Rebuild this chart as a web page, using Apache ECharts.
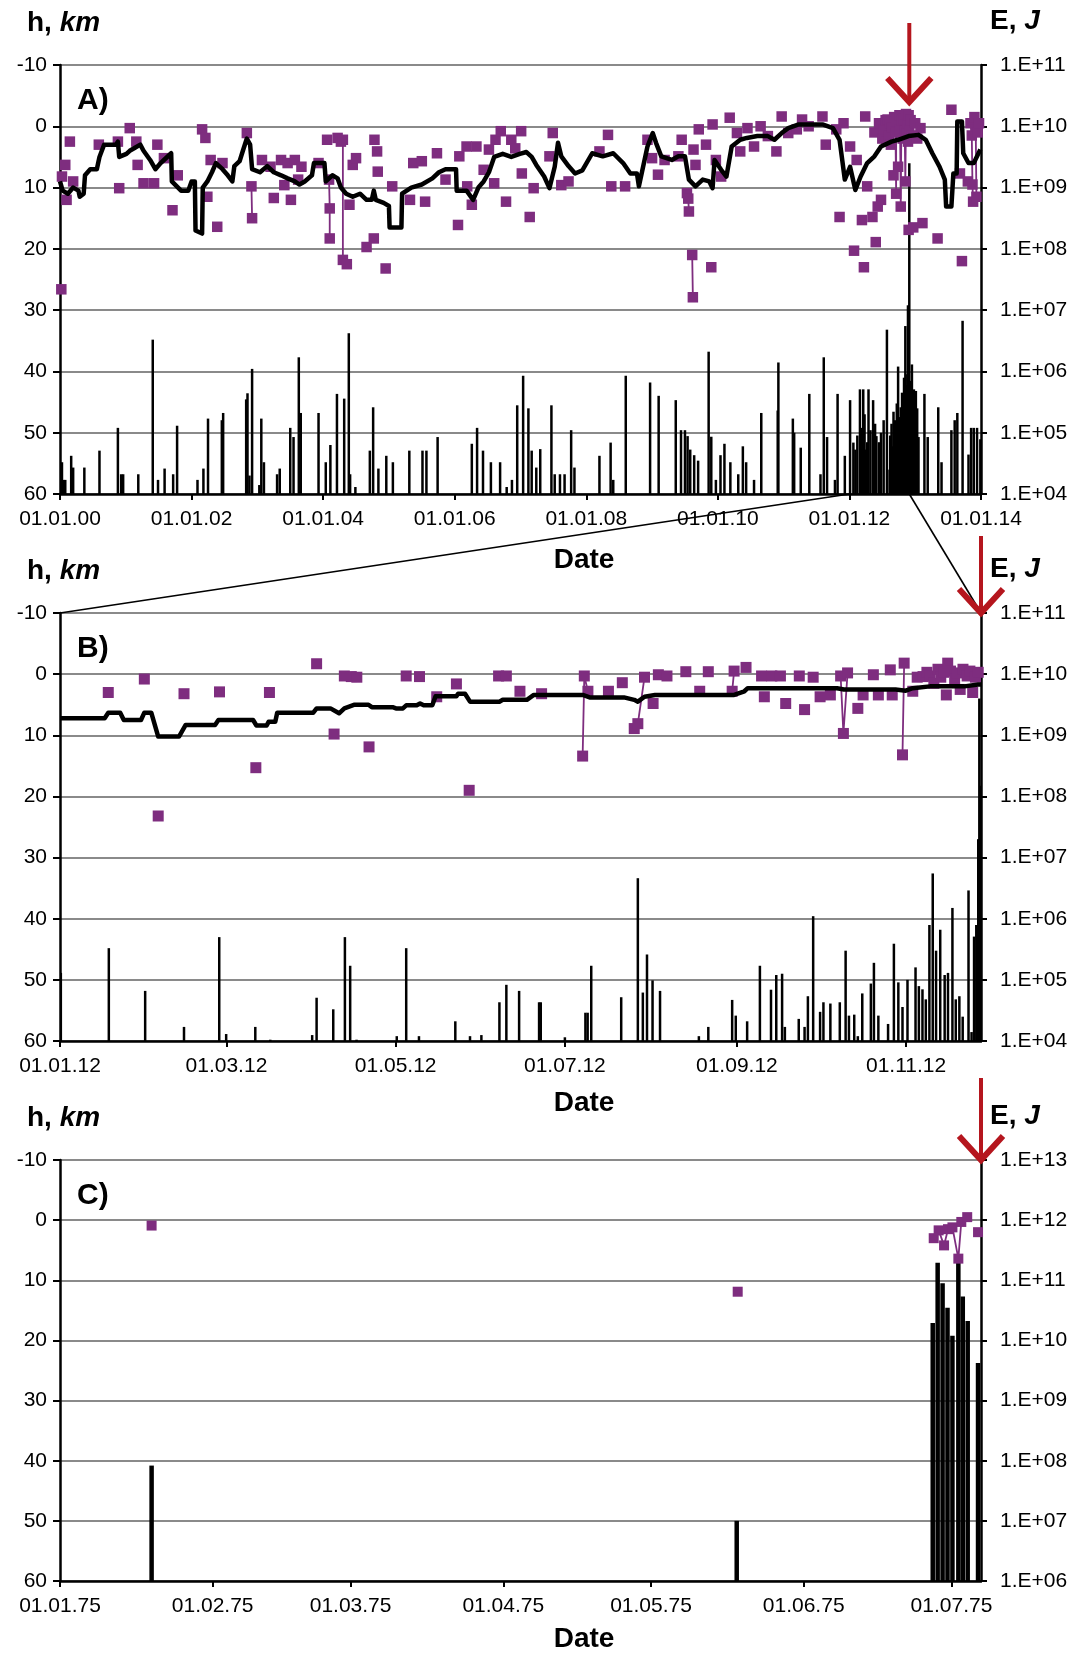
<!DOCTYPE html>
<html><head><meta charset="utf-8">
<script src="https://cdn.jsdelivr.net/npm/echarts@6/dist/echarts.min.js"></script>
<style>html,body{margin:0;padding:0;background:#fff}#c{width:1075px;height:1654px}</style>
</head><body><div id="c"></div><script>
// ---------------- DATA ----------------
// Panel A: x = decimal year; depth h (km) [year, h, linkedToPrevious]; energy E (J) [year, E]
const A_TICK_LABELS = ['01.01.00','01.01.02','01.01.04','01.01.06','01.01.08','01.01.10','01.01.12','01.01.14'];
const A_ERUPTION = 2012.91;
const A_ZOOM_START = 2012.0;
const A_H = [
[2000.02,26.6,0],[2000.03,8.2,0],[2000.08,6.3,0],[2000.10,12.0,0],[2000.15,2.5,0],[2000.20,9.0,0],[2000.59,3.0,0],
[2000.88,2.5,0],[2000.90,10.1,0],[2001.06,0.3,0],[2001.16,2.5,0],[2001.18,6.3,0],[2001.27,9.3,0],[2001.43,9.3,0],
[2001.48,3.0,0],[2001.58,5.2,0],[2001.71,13.7,0],[2001.79,8.0,0],[2002.16,0.5,0],[2002.21,1.9,0],[2002.24,11.5,0],
[2002.29,5.5,0],[2002.39,16.4,0],[2002.47,6.0,0],[2002.84,1.1,0],[2002.91,9.8,0],[2002.92,15.0,1],[2003.07,5.5,0],
[2003.20,6.6,0],[2003.25,11.7,0],[2003.36,5.5,0],[2003.41,9.6,0],[2003.46,6.0,0],[2003.51,12.0,0],[2003.57,5.5,0],
[2003.62,8.7,0],[2003.67,6.6,0],[2003.93,6.0,0],[2004.06,2.2,0],[2004.09,8.7,0],[2004.10,13.4,1],[2004.10,18.3,1],
[2004.22,1.9,0],[2004.27,2.5,0],[2004.30,2.2,0],[2004.30,21.8,1],[2004.36,22.5,0],[2004.40,12.8,0],[2004.45,6.3,0],
[2004.50,5.2,0],[2004.66,19.7,0],[2004.77,18.3,0],[2004.78,2.2,0],[2004.82,4.1,0],[2004.83,7.4,0],[2004.95,23.2,0],
[2005.05,9.8,0],[2005.32,12.0,0],[2005.37,6.0,0],[2005.50,5.7,0],[2005.55,12.3,0],[2005.73,4.4,0],[2005.86,8.7,0],
[2006.05,16.1,0],[2006.07,4.9,0],[2006.18,3.3,0],[2006.19,9.8,0],[2006.26,12.8,0],[2006.33,3.3,0],[2006.44,7.1,0],
[2006.52,3.8,0],[2006.60,9.3,0],[2006.62,2.2,0],[2006.70,0.8,0],[2006.78,12.3,0],[2006.86,2.2,0],[2006.92,3.6,0],
[2007.01,0.8,0],[2007.02,7.7,0],[2007.14,14.8,0],[2007.20,10.1,0],[2007.44,4.9,0],[2007.49,1.1,0],[2007.62,9.6,0],
[2007.73,9.0,0],[2008.20,4.1,0],[2008.33,1.4,0],[2008.38,9.8,0],[2008.59,9.8,0],[2008.93,2.2,0],[2009.00,5.2,0],
[2009.09,7.9,0],[2009.19,5.5,0],[2009.40,4.9,0],[2009.45,2.2,0],[2009.53,10.9,0],[2009.55,11.8,1],[2009.56,13.9,1],
[2009.61,21.0,0],[2009.62,27.9,1],[2009.63,3.8,0],[2009.66,6.3,0],[2009.71,0.5,0],[2009.82,3.0,0],[2009.90,23.0,0],
[2009.92,-0.3,0],[2009.97,5.5,0],[2010.05,8.2,0],[2010.18,-1.4,0],[2010.29,1.1,0],[2010.34,4.1,0],[2010.45,0.3,0],
[2010.55,3.3,0],[2010.65,0.0,0],[2010.76,1.6,0],[2010.89,4.1,0],[2010.97,-1.6,0],[2011.07,1.1,0],[2011.20,0.5,0],
[2011.28,-1.1,0],[2011.38,0.0,0],[2011.59,-1.6,0],[2011.64,3.0,0],[2011.80,0.5,0],[2011.85,14.8,0],[2011.91,-0.5,0],
[2012.01,3.3,0],[2012.07,20.3,0],[2012.11,5.5,0],[2012.19,15.3,0],[2012.22,23.0,0],[2012.24,-1.6,0],[2012.27,9.8,0],
[2012.35,14.8,0],[2012.38,1.0,0],[2012.40,18.9,0],[2012.43,13.1,0],[2012.45,-0.5,0],[2012.48,12.0,0],[2012.50,2.0,0],
[2012.52,0.5,0],[2012.55,-1.0,1],[2012.56,2.5,1],[2012.58,-1.1,0],[2012.60,1.5,0],[2012.62,-0.5,1],[2012.63,3.0,1],
[2012.65,0.2,0],[2012.67,8.0,0],[2012.68,-1.5,0],[2012.70,1.0,1],[2012.71,11.0,1],[2012.71,-0.8,1],[2012.74,6.6,0],
[2012.76,-1.8,0],[2012.77,0.5,1],[2012.78,13.1,1],[2012.79,-1.0,1],[2012.81,2.0,0],[2012.82,-1.2,0],[2012.84,0.8,1],
[2012.85,9.0,1],[2012.86,-2.0,1],[2012.87,1.0,0],[2012.88,-0.5,1],[2012.89,2.5,1],[2012.90,-1.8,0],[2012.90,16.9,0],
[2012.91,0.5,0],[2012.93,-1.0,0],[2012.95,1.5,0],[2012.97,16.5,0],[2013.00,-0.5,0],[2013.03,2.0,0],[2013.08,0.3,0],
[2013.11,15.8,0],[2013.34,18.3,0],[2013.55,-2.7,0],[2013.68,7.7,0],[2013.71,22.0,0],[2013.80,9.0,0],[2013.84,-0.5,0],
[2013.86,1.5,1],[2013.87,9.5,1],[2013.88,12.3,1],[2013.90,-1.5,0],[2013.92,0.5,1],[2013.93,11.5,1],[2013.95,1.0,0],
[2013.97,-0.5,0]
];
const A_LINE = [
[2000.0,9],[2000.04,10.5],[2000.12,11],[2000.2,10],[2000.28,10.5],[2000.3,11.5],[2000.36,11],[2000.38,8],[2000.46,7],
[2000.56,7],[2000.6,5],[2000.67,3],[2000.85,3],[2000.88,2.5],[2000.9,5],[2001.01,4.5],[2001.06,4],[2001.14,3.5],
[2001.22,3],[2001.27,4],[2001.37,5.5],[2001.45,7],[2001.53,6],[2001.58,5.5],[2001.69,4.4],[2001.7,9],[2001.84,10.5],
[2001.95,10.5],[2002.0,9],[2002.05,9],[2002.06,17],[2002.16,17.5],[2002.17,10],[2002.24,9],[2002.31,7.5],[2002.37,6],
[2002.47,7],[2002.55,8],[2002.62,9],[2002.65,6.5],[2002.73,5.7],[2002.78,4],[2002.84,2],[2002.89,3],[2002.92,7],
[2003.04,7.5],[2003.15,6.5],[2003.25,7.5],[2003.36,8],[2003.46,8.5],[2003.57,9],[2003.64,9.5],[2003.72,9],[2003.83,8],
[2003.86,6],[2004.02,6],[2004.04,9],[2004.14,8],[2004.22,8.5],[2004.27,10],[2004.35,11],[2004.45,11.5],[2004.56,11],
[2004.66,12],[2004.74,12],[2004.77,10.5],[2004.8,12],[2004.92,12.5],[2005.0,13],[2005.01,16.5],[2005.19,16.5],
[2005.2,11],[2005.34,10],[2005.5,9.5],[2005.66,8.5],[2005.76,7.5],[2005.86,7],[2006.02,7],[2006.03,10.5],[2006.18,10.5],
[2006.28,12],[2006.36,10],[2006.44,9],[2006.52,7.5],[2006.6,5],[2006.73,4.5],[2006.86,5],[2006.99,4.5],[2007.09,4.2],
[2007.17,5],[2007.24,6.3],[2007.36,8.2],[2007.44,10.1],[2007.52,6.6],[2007.57,2.7],[2007.62,4.9],[2007.73,6.5],
[2007.83,7.7],[2007.94,7.2],[2008.09,4.4],[2008.25,4.9],[2008.41,4.4],[2008.56,6],[2008.67,7.7],[2008.77,7.7],
[2008.8,9.8],[2008.83,9.8],[2008.93,3.3],[2009.01,1.1],[2009.06,2.7],[2009.14,4.9],[2009.3,5.5],[2009.4,4.9],
[2009.5,4.9],[2009.56,8.7],[2009.66,9.8],[2009.77,8.7],[2009.87,9],[2009.92,10.1],[2009.95,5.5],[2010.05,7.1],
[2010.13,8.2],[2010.21,3.3],[2010.34,2.2],[2010.44,1.9],[2010.6,1.6],[2010.76,1.6],[2010.86,2.2],[2010.97,1.1],
[2011.07,0.3],[2011.23,-0.3],[2011.38,-0.3],[2011.59,-0.3],[2011.75,0.3],[2011.85,2.2],[2011.93,8.7],[2012.01,6.6],
[2012.09,10.4],[2012.17,8.2],[2012.27,6],[2012.38,4.9],[2012.48,3.3],[2012.64,2.5],[2012.74,2.2],[2012.9,1.6],
[2013.05,1.4],[2013.16,2.2],[2013.26,4.4],[2013.37,6.6],[2013.45,8.7],[2013.47,13.1],[2013.55,13.1],[2013.58,7.7],
[2013.63,7.7],[2013.64,-0.8],[2013.71,-0.8],[2013.73,4.4],[2013.81,6],[2013.89,6],[2013.99,3.8]
];
const A_E = [
[2000.03,3.3e4],[2000.05,1.7e4],[2000.08,1.7e4],[2000.17,4.2e4],[2000.2,2.7e4],[2000.37,2.7e4],[2000.6,5.1e4],
[2000.88,1.2e5],[2000.93,2.1e4],[2000.96,2.1e4],[2001.19,2.1e4],[2001.41,3.3e6],[2001.49,1.7e4],[2001.59,2.6e4],
[2001.72,2.1e4],[2001.78,1.3e5],[2002.09,1.7e4],[2002.18,2.6e4],[2002.25,1.7e5],[2002.46,1.6e5],[2002.48,2.1e5],
[2002.83,3.5e5],[2002.85,4.4e5],[2002.88,2.0e4],[2002.92,1.1e6],[2003.03,1.4e4],[2003.06,1.7e5],[2003.1,3.3e4],
[2003.3,2.1e4],[2003.34,2.6e4],[2003.5,1.2e5],[2003.55,8.5e4],[2003.63,1.7e6],[2003.66,2.1e5],[2003.93,2.1e5],
[2004.04,3.3e4],[2004.11,6.3e4],[2004.21,4.3e5],[2004.32,3.6e5],[2004.39,4.2e6],[2004.41,2.1e4],[2004.49,1.3e4],
[2004.71,5.1e4],[2004.76,2.6e5],[2004.84,2.6e4],[2004.96,4.2e4],[2005.06,3.3e4],[2005.31,5.1e4],[2005.51,5.1e4],
[2005.57,5.1e4],[2005.74,8.5e4],[2006.26,6.6e4],[2006.34,1.2e5],[2006.43,5.1e4],[2006.55,3.3e4],[2006.69,3.3e4],
[2006.79,1.3e4],[2006.87,1.7e4],[2006.95,2.8e5],[2007.04,8.5e5],[2007.12,2.5e5],[2007.17,5.1e4],[2007.24,2.7e4],
[2007.3,5.4e4],[2007.47,2.8e5],[2007.52,2.1e4],[2007.6,2.1e4],[2007.67,2.1e4],[2007.77,1.1e5],[2007.82,2.7e4],
[2008.2,4.2e4],[2008.37,6.9e4],[2008.41,1.7e4],[2008.6,8.5e5],[2008.97,6.6e5],[2009.1,4.0e5],[2009.36,3.4e5],
[2009.44,1.1e5],[2009.5,1.1e5],[2009.54,8.8e4],[2009.58,5.3e4],[2009.64,4.3e4],[2009.7,3.5e4],[2009.86,2.1e6],
[2009.9,8.6e4],[2009.97,1.7e4],[2010.04,4.3e4],[2010.1,6.6e4],[2010.19,3.3e4],[2010.31,2.1e4],[2010.38,6.0e4],
[2010.43,3.3e4],[2010.55,1.7e4],[2010.66,2.1e5],[2010.91,2.3e5],[2010.92,1.4e6],[2011.14,1.7e5],[2011.16,1.0e5],
[2011.26,5.7e4],[2011.39,4.3e5],[2011.56,2.1e4],[2011.61,1.7e6],[2011.66,8.5e4],[2011.78,1.7e4],[2011.82,4.3e5],
[2011.93,4.2e4],[2012.01,3.4e5],[2012.06,6.9e4],[2012.09,5.3e4],[2012.12,9.0e4],[2012.16,5.1e5],[2012.18,1.2e5],
[2012.21,5.1e5],[2012.23,2.0e5],[2012.25,5.3e4],[2012.27,7.0e4],[2012.29,5.1e5],[2012.32,1.1e5],[2012.36,3.4e5],
[2012.39,1.4e5],[2012.41,8.8e4],[2012.45,7.0e4],[2012.48,1.0e5],[2012.52,1.6e5],[2012.57,4.8e6],[2012.61,2.5e4],
[2012.62,9.0e4],[2012.64,1.4e5],[2012.66,6.0e4],[2012.67,2.2e5],[2012.69,1.6e5],[2012.7,1.1e5],[2012.72,3.0e5],
[2012.74,1.2e6],[2012.76,1.8e5],[2012.78,2.6e5],[2012.8,4.5e5],[2012.81,1.5e5],[2012.82,3.2e5],[2012.83,7.9e5],
[2012.84,2.0e5],[2012.85,5.5e6],[2012.86,6.0e5],[2012.87,3.5e5],[2012.88,9.0e5],[2012.89,1.2e7],[2012.9,2.0e6],
[2012.91,2.5e9],[2012.92,3.0e5],[2012.93,7.0e5],[2012.94,2.5e5],[2012.95,1.3e6],[2012.96,1.5e5],[2012.97,3.0e5],
[2012.98,5.1e5],[2012.99,2.0e5],[2013.01,4.8e5],[2013.02,1.2e5],[2013.03,2.5e5],[2013.05,8.5e4],[2013.14,4.3e5],
[2013.19,8.5e4],[2013.35,2.6e5],[2013.4,3.3e4],[2013.55,1.1e5],[2013.6,1.6e5],[2013.64,2.1e5],[2013.72,6.7e6],
[2013.81,4.4e4],[2013.85,1.2e5],[2013.89,1.2e5],[2013.94,1.2e5],[2013.99,7.8e4]
];

// Panel B: x = day offset from 01.01.2012
const B_TICK_LABELS = ['01.01.12','01.03.12','01.05.12','01.07.12','01.09.12','01.11.12'];
const B_END_DAY = 332;
const B_H = [
[17.4,3.0,0],[30.4,0.8,0],[35.4,23.2,0],[44.7,3.2,0],[57.5,2.9,0],[70.6,15.3,0],[75.5,3.0,0],[92.5,-1.7,0],[98.8,9.8,0],
[102.5,0.3,0],[105,0.4,0],[107,0.5,0],[111.4,11.9,0],[124.8,0.3,0],[129.6,0.4,0],[135.8,3.7,0],[142.9,1.6,0],
[147.5,19.0,0],[158.1,0.3,0],[160.9,0.3,0],[165.8,2.8,0],[173.6,3.2,0],[188.4,13.4,0],[189,0.3,1],[190.3,2.8,1],
[197.7,2.8,0],[202.7,1.4,0],[207,8.9,0],[208.3,8.1,1],[210.7,0.5,1],[213.8,4.8,0],[215.7,0.1,0],[218.8,0.3,0],
[225.6,-0.4,0],[230.6,2.8,0],[233.7,-0.4,0],[242.3,2.8,0],[243,-0.5,1],[247.3,-1.1,0],[252.9,0.3,0],[253.9,3.7,0],
[256.6,0.3,0],[259.7,0.3,0],[261.6,4.8,0],[266.5,0.3,0],[268.4,5.8,0],[271.5,0.5,0],[274,3.7,0],[277.7,3.4,0],
[281.4,0.3,0],[282.4,9.7,1],[283.9,-0.2,1],[287.6,5.6,0],[289.5,3.4,0],[293.2,0.1,0],[295,3.4,0],[299.3,-0.7,0],
[300,3.4,0],[303.7,13.2,0],[304.3,-1.8,1],[307.4,2.8,0],[309,0.5,0],[311.1,0.4,0],[312.5,-0.3,0],[313.6,0.3,0],
[315,1.5,0],[316.5,-0.8,0],[317.5,0.5,0],[318.5,-0.3,0],[319.5,3.4,0],[320,-1.8,0],[321,-0.5,0],[322.5,0.8,0],
[323.5,-0.2,0],[324.5,2.5,0],[325.5,-0.8,0],[327,0.3,0],[328,-0.5,0],[329,3.0,0],[330,0.5,0],[331,-0.3,0]
];
const B_LINE = [
[0,7.2],[16.1,7.2],[17.4,6.3],[21.7,6.3],[23,7.5],[29.2,7.5],[30.4,6.3],[32.9,6.3],[35.4,10.2],[42.9,10.2],[45.3,8.3],
[55.9,8.3],[57.1,7.5],[69.6,7.5],[70.8,8.4],[74.5,8.4],[75.2,7.8],[77.6,7.8],[78.3,6.3],[91.3,6.3],[92.5,5.6],
[97.5,5.6],[100.6,6.4],[102.5,5.6],[106.2,5.0],[111.2,5.0],[112.4,5.4],[119.9,5.4],[121.1,5.6],[123.6,5.6],[124.8,5.1],
[128.6,5.1],[129.8,4.8],[131.1,5.1],[134.2,5.1],[135.4,3.6],[142.9,3.6],[143.5,3.2],[146,3.2],[147.8,4.5],[158.4,4.5],
[159.6,4.2],[168.3,4.2],[170.8,3.4],[188.4,3.4],[189.7,3.6],[190.9,3.8],[203.3,3.8],[207,4.2],[208.3,4.5],[210.7,3.7],
[214.5,3.4],[243,3.4],[246.7,2.8],[247.9,2.3],[280.1,2.3],[282.6,2.5],[301.2,2.5],[304.9,2.7],[307.4,2.3],[313.6,2.0],
[326,2.0],[331,1.7],[332,1.7]
];
const B_E = [
[0.3,1.3e5],[17.6,3.3e5],[30.7,6.6e4],[44.7,1.7e4],[57.4,5.0e5],[59.9,1.3e4],[70.4,1.7e4],[75.8,1.05e4],[90.9,1.25e4],
[92.5,5.1e4],[98.5,3.3e4],[102.7,5.0e5],[104.6,1.7e5],[106.9,1.05e4],[121.4,1.2e4],[124.8,3.3e5],[129.4,1.2e4],
[142.5,2.1e4],[147.8,1.2e4],[151.9,1.25e4],[158.4,4.3e4],[160.9,8.3e4],[165.5,6.6e4],[172.7,4.3e4],[173.3,4.3e4],
[182,1.15e4],[189.4,2.9e4],[190.2,2.9e4],[191.5,1.7e5],[202.3,5.2e4],[208.3,4.6e6],[210.1,6.2e4],[211.6,2.6e5],
[213.6,9.8e4],[216.3,6.6e4],[230.3,1.2e4],[233.7,1.7e4],[242.3,4.7e4],[243.6,2.6e4],[247.7,2.1e4],[252.3,1.7e5],
[256.3,6.9e4],[258.2,1.2e5],[260.3,1.26e5],[261.3,1.7e4],[266.3,2.3e4],[268.4,1.7e4],[269.6,5.4e4],[271.5,1.1e6],
[274,3.0e4],[275.2,4.3e4],[277.7,4.1e4],[281.1,4.3e4],[283.2,3.0e5],[284.4,2.6e4],[286.3,2.7e4],[287.6,1.2e4],
[289.2,6.0e4],[292.3,8.7e4],[293.4,1.9e5],[295,2.6e4],[298.5,1.9e4],[300.6,3.9e5],[302.2,9.1e4],[303.7,3.6e4],
[305.5,1.0e5],[308.4,1.6e5],[309.6,7.9e4],[310.9,7.0e4],[312.1,4.8e4],[313.4,7.9e5],[314.6,5.5e6],[315.8,3.0e5],
[317.3,6.6e5],[318.9,1.2e5],[320.1,1.3e5],[321.7,1.5e6],[322.9,4.8e4],[324.2,5.4e4],[325.4,2.5e4],[327.5,2.9e6],
[328.6,1.4e4],[329.5,5.1e5],[330.3,7.9e5],[331.0,2.0e7],[331.4,4.0e9],[331.8,1.5e8]
];

// Panel C: x = day offset from 01.01.1975
const C_TICK_LABELS = ['01.01.75','01.02.75','01.03.75','01.04.75','01.05.75','01.06.75','01.07.75'];
const C_END_DAY = 187;
const C_H = [
[18.6,0.9,0],[137.6,11.9,0],[177.4,3.0,0],[178.4,1.7,1],[179.5,4.2,1],[180.3,1.5,1],[181.2,1.2,1],[182.4,6.4,1],
[183,0.3,1],[184.2,-0.5,1],[186.4,2.0,0]
];
const C_E = [
[18.6,8.3e7],[137.4,1.0e7],[177.2,1.95e10],[178.2,1.95e11],[179.2,8.9e10],[180.2,3.5e10],[181.2,1.2e10],
[182.4,2.1e11],[183.3,5.4e10],[184.3,2.1e10],[186.4,4.2e9]
];

// ---------------- CHART ----------------
const FONT = "'Liberation Sans', Arial, sans-serif";
const PURPLE = '#7e2d7f';
const RED = '#b5161e';
const GRID_LEFT = 60, GRID_W = 921;
const GRIDS = [{top:65,height:429},{top:613,height:428},{top:1160,height:421}];

function dayOf(label, century) {
  const p = label.split('.').map(Number);
  const y = century + p[2];
  return Math.round((Date.UTC(y, p[1]-1, p[0]) - Date.UTC(y, 0, 1)) / 86400000);
}
const A_TICKS = A_TICK_LABELS.map(l => 2000 + Number(l.split('.')[2]));
const B_TICKS = B_TICK_LABELS.map(l => dayOf(l, 2000));
const C_TICKS = C_TICK_LABELS.map(l => dayOf(l, 1900));

function xAxisCfg(gi, min, max, ticks, labels) {
  return {
    type:'value', gridIndex:gi, min:min, max:max,
    axisLine:{show:true, onZero:false, lineStyle:{color:'#000', width:2.5}},
    axisTick:{show:true, length:6, customValues:ticks, lineStyle:{color:'#000', width:2}},
    axisLabel:{customValues:ticks, fontSize:21, color:'#000', fontFamily:FONT, margin:15,
      formatter: v => { let k = ticks.indexOf(v); if (k < 0) { let best=0; ticks.forEach((t,i)=>{ if(Math.abs(t-v)<Math.abs(ticks[best]-v)) best=i; }); k=best; } return labels[k]; }},
    splitLine:{show:false}
  };
}
function yLeft(gi) {
  return {
    type:'value', gridIndex:gi, inverse:true, min:-10, max:60, interval:10, position:'left',
    axisLine:{show:true, onZero:false, lineStyle:{color:'#000', width:2.5}},
    axisTick:{show:true, length:7, lineStyle:{color:'#000', width:2}},
    axisLabel:{fontSize:21, color:'#000', fontFamily:FONT, margin:13, showMinLabel:true, showMaxLabel:true},
    splitLine:{show:true, lineStyle:{color:'#8a8a8a', width:2}}
  };
}
function yRight(gi, min, max) {
  return {
    type:'log', logBase:10, gridIndex:gi, min:min, max:max, position:'right', splitNumber:7,
    axisLine:{show:true, onZero:false, lineStyle:{color:'#000', width:2.5}},
    axisTick:{show:true, length:6, lineStyle:{color:'#000', width:2}},
    axisLabel:{fontSize:21, color:'#000', fontFamily:FONT, margin:19, showMinLabel:true, showMaxLabel:true,
      formatter: v => '1.E+' + String(Math.round(Math.log10(v))).padStart(2,'0')},
    splitLine:{show:false}
  };
}
function barSeries(xi, yi, data, w, minE) {
  return {
    type:'custom', xAxisIndex:xi, yAxisIndex:yi, data:data, clip:true, z:1,
    renderItem:(params, api) => {
      const x = api.value(0), v = api.value(1);
      const p = api.coord([x, v]); const b = api.coord([x, minE]);
      return {type:'rect', shape:{x:p[0]-w/2, y:p[1], width:w, height:Math.max(0.5, b[1]-p[1])}, style:{fill:'#000'}};
    }
  };
}
function linkSeries(xi, yi, H) {
  const out = [];
  for (let i = 1; i < H.length; i++) {
    if (H[i][2]) { out.push([H[i-1][0], H[i-1][1]], [H[i][0], H[i][1]], [H[i][0], '-']); }
  }
  return {type:'line', xAxisIndex:xi, yAxisIndex:yi, data:out, symbol:'none', connectNulls:false, z:2,
    lineStyle:{color:PURPLE, width:1.8}, silent:true};
}
function sqSeries(xi, yi, H, size) {
  return {type:'scatter', xAxisIndex:xi, yAxisIndex:yi, data:H.map(p=>[p[0],p[1]]), symbol:'rect',
    symbolSize:size, itemStyle:{color:PURPLE, opacity:1}, z:3};
}
function lineSeries(xi, yi, data) {
  return {type:'line', xAxisIndex:xi, yAxisIndex:yi, data:data, symbol:'none', z:4,
    lineStyle:{color:'#000', width:4.5, join:'round'}};
}

const chart = echarts.init(document.getElementById('c'), null, {renderer:'canvas'});
chart.setOption({
  animation:false,
  backgroundColor:'#fff',
  textStyle:{fontFamily:FONT},
  grid: GRIDS.map(g => ({left:GRID_LEFT, width:GRID_W, top:g.top, height:g.height, containLabel:false})),
  xAxis:[
    xAxisCfg(0, 2000, 2014, A_TICKS, A_TICK_LABELS),
    xAxisCfg(1, 0, B_END_DAY, B_TICKS, B_TICK_LABELS),
    xAxisCfg(2, 0, C_END_DAY, C_TICKS, C_TICK_LABELS)
  ],
  yAxis:[ yLeft(0), yRight(0,1e4,1e11), yLeft(1), yRight(1,1e4,1e11), yLeft(2), yRight(2,1e6,1e13) ],
  series:[
    barSeries(0,1,A_E,2.5,1e4), linkSeries(0,0,A_H), sqSeries(0,0,A_H,10.5), lineSeries(0,0,A_LINE),
    barSeries(1,3,B_E,2.5,1e4), linkSeries(1,2,B_H), sqSeries(1,2,B_H,11), lineSeries(1,2,B_LINE),
    barSeries(2,5,C_E,4.5,1e6), linkSeries(2,4,C_H), sqSeries(2,4,C_H,10)
  ]
});

// ---------------- ANNOTATIONS ----------------
const px = (ax, v) => chart.convertToPixel({xAxisIndex:ax}, v);
const py = (ax, v) => chart.convertToPixel({yAxisIndex:ax}, v);
const g = [];
const titleRich = {
  a:{fontSize:28, fontWeight:'bold', fontFamily:FONT, fill:'#000'},
  b:{fontSize:28, fontWeight:'bold', fontStyle:'italic', fontFamily:FONT, fill:'#000'}
};
const LETTERS = ['A)','B)','C)'];
const DATE_Y_OFF = [66, 62, 58];
GRIDS.forEach((gr, i) => {
  g.push({type:'text', x:27, y:gr.top-42, style:{text:'{a|h, }{b|km}', rich:titleRich, verticalAlign:'middle', textVerticalAlign:'middle'}});
  g.push({type:'text', x:990, y:gr.top-44, style:{text:'{a|E, }{b|J}', rich:titleRich, verticalAlign:'middle', textVerticalAlign:'middle'}});
  g.push({type:'text', x:77, y:gr.top+36, style:{text:LETTERS[i], font:'bold 30px ' + FONT, fill:'#000', verticalAlign:'middle', textVerticalAlign:'middle'}});
  g.push({type:'text', x:584, y:gr.top+gr.height+DATE_Y_OFF[i], style:{text:'Date', font:'bold 28px ' + FONT, fill:'#000', align:'center', textAlign:'center', verticalAlign:'middle', textVerticalAlign:'middle'}});
});
// zoom connector lines A -> B
const aBottom = py(0, 60);
const bTop = py(2, -10);
g.push({type:'line', shape:{x1:px(0, A_ZOOM_START), y1:aBottom, x2:px(1, 0), y2:bTop}, style:{stroke:'#000', lineWidth:1.6}, z:50});
g.push({type:'line', shape:{x1:px(0, A_ERUPTION), y1:aBottom, x2:px(1, B_END_DAY), y2:bTop}, style:{stroke:'#000', lineWidth:1.6}, z:50});
// red arrows
function arrow(x, top, tip) {
  g.push({type:'line', shape:{x1:x, y1:top, x2:x, y2:tip-3}, style:{stroke:RED, lineWidth:4}, z:60});
  g.push({type:'polyline', shape:{points:[[x-22, tip-24],[x, tip],[x+22, tip-24]]}, style:{stroke:RED, lineWidth:6, fill:null, lineJoin:'miter'}, z:60});
}
arrow(px(0, A_ERUPTION), 23, 102);
arrow(px(1, B_END_DAY), 536, py(2, -10));
arrow(px(2, C_END_DAY), 1078, py(4, -10));
chart.setOption({graphic:{elements:g}});
</script></body></html>
